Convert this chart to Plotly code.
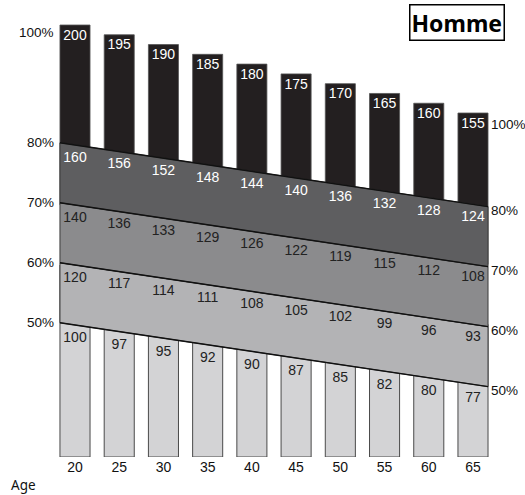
import plotly.graph_objects as go

# data
ages = [20, 25, 30, 35, 40, 45, 50, 55, 60, 65]
hr_max = [200, 195, 190, 185, 180, 175, 170, 165, 160, 155]
hr_80 = [160, 156, 152, 148, 144, 140, 136, 132, 128, 124]
hr_70 = [140, 136, 133, 129, 126, 122, 119, 115, 112, 108]
hr_60 = [120, 117, 114, 111, 108, 105, 102, 99, 96, 93]
hr_50 = [100, 97, 95, 92, 90, 87, 85, 82, 80, 77]
zone_levels = [50, 60, 70, 80]
zone_labels = ["50%", "60%", "70%", "80%"]
title_text = "Homme"
x_title = "Age"

# schematic drawing constants (y axis is in "percent" drawing units)
BASE = 28.0
BAR_W = 3.4
BAND_SLOPE = 0.22   # drop of the zone lines per year of age
TOP_SLOPE = 0.326   # drop of the bar tops per year of age

DARK = "#231f20"
BAND_COLORS = ["#b3b3b5", "#8b8b8d", "#5e5e60"]
LIGHT = "#d3d3d5"
FONT = "Liberation Sans, Arial, sans-serif"


def zone_y(level, age):
    return level - BAND_SLOPE * (age - ages[0])


x_left = ages[0] - BAR_W / 2
x_right = ages[-1] + BAR_W / 2
tops = [100 - TOP_SLOPE * (a - ages[0]) for a in ages]

fig = go.Figure()

# black bars (80-100 %)
fig.add_trace(go.Bar(
    x=ages, y=[t - zone_y(70, a) for t, a in zip(tops, ages)],
    base=[zone_y(70, a) for a in ages], width=BAR_W,
    marker=dict(color=DARK, line=dict(color="#555", width=0.8)),
    hoverinfo="skip"))

# light bars (below 50 %)
fig.add_trace(go.Bar(
    x=ages, y=[zone_y(60, a) - BASE for a in ages],
    base=[BASE] * len(ages), width=BAR_W,
    marker=dict(color=LIGHT, line=dict(color="#4a4a4a", width=1)),
    hoverinfo="skip"))

# sloped bands between the zone lines
for lo, hi, col in zip(zone_levels[:-1], zone_levels[1:], BAND_COLORS):
    fig.add_trace(go.Scatter(
        x=[x_left, x_right, x_right, x_left, x_left],
        y=[zone_y(lo, x_left), zone_y(lo, x_right), zone_y(hi, x_right),
           zone_y(hi, x_left), zone_y(lo, x_left)],
        fill="toself", fillcolor=col, mode="lines",
        line=dict(color="#3a3a3a", width=1), hoverinfo="skip"))

for lvl in zone_levels:
    fig.add_trace(go.Scatter(
        x=[x_left, x_right], y=[zone_y(lvl, x_left), zone_y(lvl, x_right)],
        mode="lines", line=dict(color="#111", width=1.4), hoverinfo="skip"))


# value labels
def add_labels(vals, ys, color):
    fig.add_trace(go.Scatter(
        x=ages, y=ys, mode="text", text=[str(v) for v in vals],
        textposition="middle center", cliponaxis=False,
        textfont=dict(family=FONT, size=14, color=color), hoverinfo="skip"))


add_labels(hr_max, [t - 1.85 for t in tops], "white")
add_labels(hr_80, [zone_y(80, a) - 2.2 for a in ages], "white")
add_labels(hr_70, [zone_y(70, a) - 2.2 for a in ages], "#222")
add_labels(hr_60, [zone_y(60, a) - 2.2 for a in ages], "#222")
add_labels(hr_50, [zone_y(50, a) - 2.3 for a in ages], "#222")

annotations = []
# percentage labels, left and right
for lvl, lab in zip(zone_levels, zone_labels):
    annotations.append(dict(x=x_left, y=zone_y(lvl, x_left), text=lab,
                            xanchor="right", yanchor="middle", xshift=-4,
                            showarrow=False))
    annotations.append(dict(x=x_right, y=zone_y(lvl, x_right) - 0.7, text=lab,
                            xanchor="left", yanchor="middle", xshift=1,
                            showarrow=False))
annotations.append(dict(x=x_left, y=tops[0] - 1.3, text="100%",
                        xanchor="right", yanchor="middle", xshift=-4,
                        showarrow=False))
annotations.append(dict(x=x_right, y=tops[-1] - 1.85, text="100%",
                        xanchor="left", yanchor="middle", xshift=1,
                        showarrow=False))
for a in annotations:
    a["font"] = dict(family=FONT, size=13.5, color="#111")

annotations.append(dict(xref="paper", yref="paper", x=0.87, y=0.95,
                        text="<b>" + title_text + "</b>", showarrow=False,
                        xanchor="center", yanchor="middle",
                        font=dict(family="Noto Sans, sans-serif", size=23, color="black"),
                        bordercolor="black", borderwidth=1.5, borderpad=1,
                        bgcolor="white"))
annotations.append(dict(xref="paper", yref="paper", x=0.017, y=-0.062,
                        text=x_title, showarrow=False, xanchor="left",
                        yanchor="middle",
                        font=dict(family="Noto Sans, sans-serif", size=13.5, color="#111")))

fig.update_layout(
    width=525, height=495,
    margin=dict(l=0, r=0, t=0, b=38),
    paper_bgcolor="white", plot_bgcolor="white",
    barmode="overlay", showlegend=False,
    annotations=annotations,
    xaxis=dict(range=[11.52, 70.88], tickvals=ages, ticktext=[str(a) for a in ages],
               showgrid=False, zeroline=False, showline=False, ticks="",
               tickfont=dict(family=FONT, size=14, color="#111"), fixedrange=True),
    yaxis=dict(range=[BASE, BASE + 457 / 6], visible=False, fixedrange=True),
)

fig.write_html("out.html", config={"displayModeBar": False},
               post_script="document.body.style.margin='0';document.body.style.overflow='hidden';")
